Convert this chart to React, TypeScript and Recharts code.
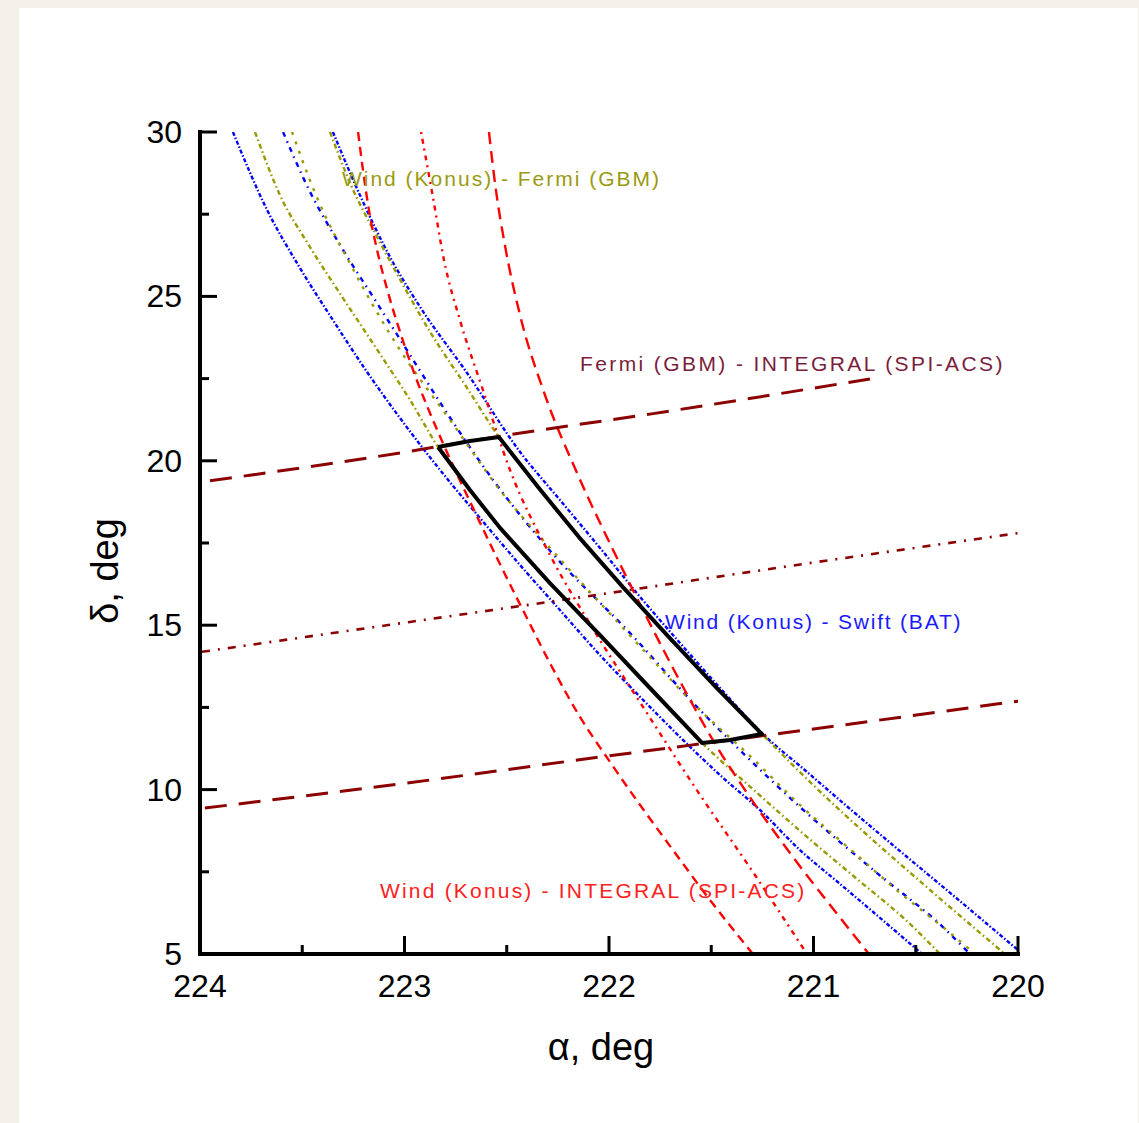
import React from 'react';
import { ComposedChart, Line, XAxis, YAxis, ReferenceDot } from 'recharts';

// ---------- data (right ascension alpha, declination delta in degrees) ----------
const blueLeftRA = [223.839, 223.672, 223.511, 223.35, 223.183, 223.022, 222.826, 222.631, 222.435, 222.24, 222.044, 221.848, 221.653, 221.457, 221.262, 221.066, 220.87, 220.675, 220.469];
const blueLeftDec = [30.0, 27.63, 25.86, 24.28, 22.7, 21.3, 19.72, 18.26, 16.83, 15.46, 14.09, 12.82, 11.6, 10.44, 9.38, 8.16, 7.13, 6.1, 5.0];

const blueMidRA = [223.594, 223.462, 223.315, 223.144, 222.973, 222.792, 222.548, 222.279, 221.897, 221.555, 221.325, 221.066, 220.689, 220.367, 220.235];
const blueMidDec = [30.0, 28.18, 26.56, 24.89, 23.22, 21.45, 19.26, 17.2, 14.76, 12.42, 10.99, 9.47, 7.46, 5.82, 5.0];

const blueRightRA = [223.35, 223.218, 223.071, 222.924, 222.694, 222.435, 222.24, 222.044, 221.848, 221.653, 221.457, 221.227, 221.066, 220.821, 220.577, 220.332, 220.0];
const blueRightDec = [30.0, 28.08, 26.2, 24.68, 22.67, 20.27, 18.81, 17.35, 15.86, 14.46, 13.09, 11.57, 10.72, 9.41, 8.13, 6.86, 5.12];

const oliveLeftRA = [223.731, 223.609, 223.462, 223.301, 223.12, 222.973, 222.836, 222.68, 222.533, 222.289, 222.044, 221.8, 221.545, 221.276, 221.032, 220.787, 220.543, 220.381];
const oliveLeftDec = [30.0, 28.08, 26.5, 24.95, 23.25, 21.85, 20.42, 19.11, 17.96, 16.28, 14.7, 13.09, 11.42, 9.9, 8.56, 7.28, 6.0, 5.0];

const oliveMidRA = [223.55, 223.433, 223.257, 223.022, 222.777, 222.533, 222.289, 222.044, 221.8, 221.555, 221.31, 221.066, 220.821, 220.577, 220.332, 220.21];
const oliveMidDec = [30.0, 28.08, 25.89, 23.37, 21.24, 19.11, 17.35, 15.68, 14.03, 12.42, 11.02, 9.53, 8.19, 6.86, 5.64, 5.0];

const oliveRightRA = [223.364, 223.262, 223.139, 223.007, 222.866, 222.704, 222.538, 222.347, 222.147, 221.932, 221.707, 221.477, 221.252, 221.007, 220.743, 220.464, 220.064];
const oliveRightDec = [30.0, 28.39, 26.87, 25.35, 23.83, 22.31, 20.72, 19.2, 17.68, 16.16, 14.64, 13.12, 11.69, 10.17, 8.65, 7.13, 5.0];

const redLeftRA = [223.227, 223.203, 223.174, 223.134, 223.081, 223.017, 222.944, 222.861, 222.768, 222.66, 222.538, 222.416, 222.284, 222.142, 221.995, 221.848, 221.687, 221.506, 221.296];
const redLeftDec = [30.0, 28.84, 27.63, 26.41, 25.13, 23.83, 22.52, 21.24, 19.93, 18.5, 16.92, 15.4, 13.79, 12.21, 10.84, 9.53, 8.16, 6.64, 5.0];

const redMidRA = [222.919, 222.861, 222.807, 222.729, 222.616, 222.484, 222.289, 222.068, 221.824, 221.555, 221.31, 221.032];
const redMidDec = [30.0, 28.02, 26.11, 24.28, 22.15, 19.72, 17.14, 14.79, 12.42, 9.84, 7.62, 5.0];

const redRightRA = [222.587, 222.553, 222.509, 222.435, 222.313, 222.152, 221.98, 221.809, 221.643, 221.472, 221.301, 221.115, 220.919, 220.729];
const redRightDec = [30.0, 28.24, 26.56, 24.43, 22.0, 19.57, 17.29, 15.16, 13.18, 11.3, 9.68, 8.07, 6.49, 5.0];

const fiLowRA = [223.976, 222.988, 222.044, 221.149, 220.0];
const fiLowDec = [9.44, 10.2, 10.99, 11.72, 12.69];
const fiMidRA = [223.99, 222.973, 222.127, 221.149, 220.0];
const fiMidDec = [14.19, 15.1, 15.86, 16.77, 17.8];
const fiHighRA = [223.951, 223.022, 222.533, 221.8, 220.724];
const fiHighDec = [19.39, 20.24, 20.75, 21.42, 22.49];

const boxRA = [222.836, 222.68, 222.538, 222.347, 222.147, 221.932, 221.707, 221.477, 221.252, 221.408, 221.545, 221.8, 222.044, 222.289, 222.533, 222.68, 222.836];
const boxDec = [20.42, 20.6, 20.72, 19.2, 17.68, 16.16, 14.64, 13.12, 11.69, 11.51, 11.42, 13.09, 14.7, 16.28, 17.96, 19.11, 20.42];

const xTicks = [220, 220.5, 221, 221.5, 222, 222.5, 223, 223.5, 224];
const yTicks = [5, 7.5, 10, 12.5, 15, 17.5, 20, 22.5, 25, 27.5, 30];

const notes = [
  { ra: 223.306, dec: 28.36, text: 'Wind (Konus) - Fermi (GBM)', color: '#9a9a10', ls: 2 },
  { ra: 222.142, dec: 22.73, text: 'Fermi (GBM) - INTEGRAL (SPI-ACS)', color: '#7a1e3c', ls: 2.4 },
  { ra: 221.726, dec: 14.88, text: 'Wind (Konus) - Swift (BAT)', color: '#1a1aff', ls: 1.8 },
  { ra: 223.12, dec: 6.70, text: 'Wind (Konus) - INTEGRAL (SPI-ACS)', color: '#ff2020', ls: 2.2 },
];

// ---------- styles ----------
const FONT = '"Liberation Sans", Arial, Helvetica, sans-serif';
const BLUE = '#0000ff';
const OLIVE = '#999900';
const RED = '#ff0000';
const DARKRED = '#8b0000';

const zip = (xs: number[], ys: number[]) => xs.map((x, i) => ({ x, y: ys[i] }));

const series = [
  { key: 'bl', data: zip(blueLeftRA, blueLeftDec), color: BLUE, dash: '4 2 1.5 2', w: 2.4 },
  { key: 'bm', data: zip(blueMidRA, blueMidDec), color: BLUE, dash: '5 5 1.5 5', w: 2.4 },
  { key: 'br', data: zip(blueRightRA, blueRightDec), color: BLUE, dash: '4 2 1.5 2', w: 2.4 },
  { key: 'ol', data: zip(oliveLeftRA, oliveLeftDec), color: OLIVE, dash: '5 3 1.5 3', w: 2.4 },
  { key: 'om', data: zip(oliveMidRA, oliveMidDec), color: OLIVE, dash: '3 7', w: 2.4 },
  { key: 'or', data: zip(oliveRightRA, oliveRightDec), color: OLIVE, dash: '5 3 1.5 3', w: 2.4 },
  { key: 'rl', data: zip(redLeftRA, redLeftDec), color: RED, dash: '9 6', w: 2.4 },
  { key: 'rm', data: zip(redMidRA, redMidDec), color: RED, dash: '2 5 5 5', w: 2.4 },
  { key: 'rr', data: zip(redRightRA, redRightDec), color: RED, dash: '12 7', w: 2.4 },
  { key: 'fl', data: zip(fiLowRA, fiLowDec), color: DARKRED, dash: '22 12', w: 3 },
  { key: 'fm', data: zip(fiMidRA, fiMidDec), color: DARKRED, dash: '8 8 2 8', w: 2.6 },
  { key: 'fh', data: zip(fiHighRA, fiHighDec), color: DARKRED, dash: '22 12', w: 3 },
];

const isMajorX = (v: number) => Math.abs(v - Math.round(v)) < 1e-6;
const isMajorY = (v: number) => Math.abs(v / 5 - Math.round(v / 5)) < 1e-6;

const BottomTick = (p: any) => {
  const { x, y, payload } = p;
  const major = isMajorX(payload.value);
  return (
    <g>
      <line x1={x} x2={x} y1={y} y2={y - (major ? 18 : 9)} stroke="#000" strokeWidth={3} />
      {major && (
        <text x={x} y={y + 43} textAnchor="middle" fontFamily={FONT} fontSize={32} fill="#000">
          {Math.round(payload.value)}
        </text>
      )}
    </g>
  );
};
const TopTick = (p: any) => {
  const { x, y, payload } = p;
  const major = isMajorX(payload.value);
  return <line x1={x} x2={x} y1={y} y2={y + (major ? 17 : 8)} stroke="#000" strokeWidth={3} />;
};
const LeftTick = (p: any) => {
  const { x, y, payload } = p;
  const major = isMajorY(payload.value);
  return (
    <g>
      <line x1={x} x2={x + (major ? 17 : 9)} y1={y} y2={y} stroke="#000" strokeWidth={3} />
      {major && (
        <text x={x - 18} y={y + 11} textAnchor="end" fontFamily={FONT} fontSize={32} fill="#000">
          {payload.value}
        </text>
      )}
    </g>
  );
};
const RightTick = (p: any) => {
  const { x, y, payload } = p;
  const major = isMajorY(payload.value);
  return <line x1={x} x2={x - (major ? 17 : 9)} y1={y} y2={y} stroke="#000" strokeWidth={3} />;
};

const axisLine = { stroke: '#000', strokeWidth: 4, strokeLinecap: 'square' as const };

export default function App() {
  return (
    <div style={{ position: 'absolute', left: 0, top: 0, width: 1139, height: 1123, background: '#f3f0e9', overflow: 'hidden' }}>
      <div style={{ position: 'absolute', left: 19, top: 8, width: 1119, height: 1115, background: '#ffffff' }} />
      <div style={{ position: 'absolute', left: 0, top: 0 }}>
        <ComposedChart width={1139} height={1123} margin={{ top: 132, right: 121, bottom: 109, left: 120 }}>
          <XAxis
            xAxisId="b"
            type="number"
            dataKey="x"
            domain={[220, 224]}
            reversed
            allowDataOverflow
            ticks={xTicks}
            interval={0}
            height={60}
            tickSize={0}
            tickMargin={0}
            tickLine={false}
            axisLine={axisLine}
            tick={(p: any) => <BottomTick {...p} />}
            label={{
              content: (lp: any) => {
                const vb = lp.viewBox || { x: 200, y: 954, width: 818 };
                return (
                  <text x={vb.x + vb.width / 2 - 8} y={vb.y + 106} textAnchor="middle" fontFamily={FONT} fontSize={38} fill="#000">
                    α, deg
                  </text>
                );
              },
            }}
          />
          <XAxis
            xAxisId="t"
            orientation="top"
            type="number"
            dataKey="x"
            domain={[220, 224]}
            reversed
            allowDataOverflow
            ticks={xTicks}
            interval={0}
            height={0}
            tickSize={0}
            tickMargin={0}
            tickLine={false}
            axisLine={axisLine}
            tick={(p: any) => <TopTick {...p} />}
            label={{
              content: (lp: any) => {
                const vb = lp.viewBox || { x: 200, y: 132, width: 818 };
                return (
                  <text x={vb.x + vb.width / 2 - 2} y={104} textAnchor="middle" fontFamily={FONT} fontSize={32} fill="#000">
                    GRB 180728B
                  </text>
                );
              },
            }}
          />
          <YAxis
            yAxisId="l"
            type="number"
            domain={[5, 30]}
            allowDataOverflow
            ticks={yTicks}
            interval={0}
            width={80}
            tickSize={0}
            tickMargin={0}
            tickLine={false}
            axisLine={axisLine}
            tick={(p: any) => <LeftTick {...p} />}
            label={{
              content: (lp: any) => {
                const vb = lp.viewBox || { x: 120, y: 132, width: 80, height: 822 };
                const cx = vb.x - 2;
                const cy = vb.y + vb.height / 2 + 28;
                return (
                  <text x={cx} y={cy} textAnchor="middle" fontFamily={FONT} fontSize={38} fill="#000" transform={`rotate(-90 ${cx} ${cy})`}>
                    δ, deg
                  </text>
                );
              },
            }}
          />
          <YAxis
            yAxisId="r"
            orientation="right"
            type="number"
            domain={[5, 30]}
            allowDataOverflow
            ticks={yTicks}
            interval={0}
            width={0}
            tickSize={0}
            tickMargin={0}
            tickLine={false}
            axisLine={axisLine}
            tick={(p: any) => <RightTick {...p} />}
          />

          {series.map((s) => (
            <Line
              key={s.key}
              xAxisId="b"
              yAxisId="l"
              data={s.data}
              dataKey="y"
              type="monotone"
              stroke={s.color}
              strokeWidth={s.w}
              strokeDasharray={s.dash}
              dot={false}
              activeDot={false}
              isAnimationActive={false}
            />
          ))}
          <Line
            xAxisId="b"
            yAxisId="l"
            data={zip(boxRA, boxDec)}
            dataKey="y"
            type="linear"
            stroke="#000"
            strokeWidth={4}
            strokeLinejoin="round"
            dot={false}
            activeDot={false}
            isAnimationActive={false}
          />
          {notes.map((n) => (
            <ReferenceDot
              key={n.text}
              xAxisId="b"
              yAxisId="l"
              x={n.ra}
              y={n.dec}
              r={0}
              fill="none"
              stroke="none"
              label={{
                content: (lp: any) => {
                  const vb = lp.viewBox || {};
                  const x = vb.x ?? lp.x;
                  const y = vb.y ?? lp.y;
                  return (
                    <text x={x} y={y} fontFamily={FONT} fontSize={21} letterSpacing={n.ls} fill={n.color}>
                      {n.text}
                    </text>
                  );
                },
              }}
            />
          ))}
        </ComposedChart>
      </div>
    </div>
  );
}
